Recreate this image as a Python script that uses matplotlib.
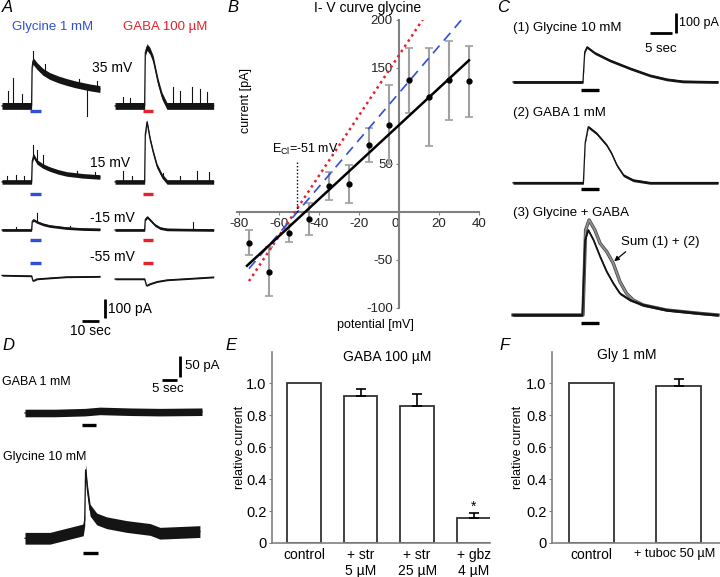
import numpy as np
import matplotlib
matplotlib.use('Agg')
import matplotlib.pyplot as plt
import matplotlib.patheffects as pe
import matplotlib.transforms as mtransforms

plt.rcParams['font.family'] = ['Liberation Sans', 'DejaVu Sans']
plt.rcParams['mathtext.fontset'] = 'custom'
plt.rcParams['mathtext.rm'] = 'Liberation Sans'
plt.rcParams['axes.unicode_minus'] = False

# ---------------- Panel A data (t in s from trace start, I in pA above baseline) ----
A_GLY35_T = [0, 17.4, 17.7, 18.2, 20.6, 24, 28, 33, 38, 43, 47.6, 52, 57.6]
A_GLY35_I = [0, 0, 200, 237, 210, 180, 158, 140, 126, 114, 105, 97, 89]
A_GLY35_SPK_T = [3.5, 6.7, 11.8, 18.0, 25.0, 32.0, 45.0, 50.2, 56.0]
A_GLY35_SPK_V = [79, 147, 63, 289, 221, 158, 142, -53, 132]

A_GABA35_T = [0, 17.4, 17.8, 18.8, 20.5, 22.4, 24, 25.3, 27.6, 30.5, 58]
A_GABA35_I = [0, 0, 280, 310, 290, 247, 180, 126, 53, 0, 0]
A_GABA35_SPK_T = [4.7, 9.0, 34, 38.2, 45, 50, 54]
A_GABA35_SPK_V = [47, 40, 100, 79, 100, 90, 74]

A_GLY15_T = [0, 17.4, 17.8, 18.6, 20.6, 24, 28, 33, 38, 47.6, 57.6]
A_GLY15_I = [0, 0, 110, 137, 105, 84, 68, 53, 42, 32, 26]
A_GLY15_SPK_T = [3, 8, 13, 18.3, 20.5, 24.0, 44, 55]
A_GLY15_SPK_V = [30, 35, 30, 195, 170, 140, 60, 50]

A_GABA15_T = [0, 17.4, 17.8, 18.8, 20.6, 22.4, 24.7, 27.6, 30.6, 58]
A_GABA15_I = [0, 0, 250, 316, 226, 158, 84, 32, 0, 0]
A_GABA15_SPK_T = [4.7, 10, 28, 38.2, 48.2, 55.3]
A_GABA15_SPK_V = [58, 30, 45, 32, 58, 53]

A_GLYm15_T = [0, 17.4, 17.8, 18.5, 20.6, 24, 28, 38, 47.6, 57.6]
A_GLYm15_I = [0, 0, 45, 53, 42, 30, 21, 10, 5, 3]
A_GLYm15_SPK_T = [8, 20.6, 40]
A_GLYm15_SPK_V = [15, 90, 20]

A_GABAm15_T = [0, 17.4, 17.8, 19, 20.6, 23.5, 26.5, 30.6, 58]
A_GABAm15_I = [0, 0, 55, 68, 53, 26, 10, 3, 0]
A_GABAm15_SPK_T = [46]
A_GABAm15_SPK_V = [40]

A_GLYm55_T = [0, 17.4, 18.2, 20.6, 28, 38, 48, 57.6]
A_GLYm55_I = [3, 0, -26, -16, -11, -5, -4, -3]

A_GABAm55_T = [0, 17.4, 18.5, 20.6, 24.7, 30.6, 40, 58]
A_GABAm55_I = [0, 0, -35, -26, -14, -5, 0, 10]

A_ROW_LABELS = ['35 mV', '15 mV', '-15 mV', '-55 mV']
A_STIM = (16.5, 22.7)

# ---------------- Panel B data ----------------
B_V = [-75, -65, -55, -45, -35, -25, -15, -5, 5, 15, 25, 35]
B_I = [-32, -62, -22, -7, 27, 29, 70, 91, 137, 120, 137, 136]
B_ERR = [13, 26, 9.5, 16.5, 15, 20, 18, 41, 34, 51, 41, 37]
B_FIT_BLACK_X = [-76, 35]
B_FIT_BLACK_Y = [-56, 158]
B_FIT_BLUE_X = [-75, 32]
B_FIT_BLUE_Y = [-59, 202]
B_FIT_RED_X = [-75, 12]
B_FIT_RED_Y = [-72, 201]
B_ECL = -51
B_XTICKS = [-80, -60, -40, -20, 0, 20, 40]
B_YTICKS = [-100, -50, 50, 150, 200]

# ---------------- Panel C data ----------------
C1_T = [0, 15.9, 16.3, 16.8, 18.6, 22.0, 26.6, 31.1, 35.0, 38.6, 46.6]
C1_I = [0, 0, 150, 175, 145, 108, 68, 33, 13, 3, 0]
C2_T = [0, 16.0, 16.4, 17.1, 19.0, 21.3, 22.4, 23.6, 25.1, 27.3, 31.1, 46.6]
C2_I = [0, 0, 200, 280, 247, 188, 147, 88, 38, 13, 0, 0]
C3_T = [0, 15.8, 16.4, 17.1, 18.3, 19.8, 21.3, 22.8, 24.3, 26.6, 29.6, 34.9, 42.5, 46.6]
C3_I = [0, 0, 375, 425, 375, 292, 217, 158, 108, 75, 50, 25, 8, 0]
C_SUM_T = [0, 15.9, 16.5, 17.3, 18.6, 19.8, 21.3, 22.8, 24.3, 25.8, 27.3, 29.6, 34.9, 42.5, 46.6]
C_SUM_I = [0, 0, 425, 475, 425, 358, 317, 258, 167, 108, 75, 50, 25, 8, 0]
C_STIM = (15.5, 19.5)

# ---------------- Panel D data ----------------
D_GABA_T = [0, 10, 20, 25, 35, 45, 59]
D_GABA_I = [0, 0, 2, 5, 3, 2, 3]
D_GLY_T = [0, 8.3, 17.2, 19.4, 19.9, 20.2, 20.8, 21.7, 23.9, 27.2, 33.9, 41.7, 45, 51.7, 58.3]
D_GLY_I = [-3, -3, 13, 17, 40, 160, 112, 64, 43, 34, 25, 18, 9, 11, 13]
D_STIM_GABA = (19.0, 23.7)
D_STIM_GLY = (19.3, 24.3)

# ---------------- Panel E / F data ----------------
E_LABELS = ['control', '+ str\n5 µM', '+ str\n25 µM', '+ gbz\n4 µM']
E_VALUES = [1.0, 0.92, 0.855, 0.155]
E_ERR = [0, 0.04, 0.075, 0.033]
F_LABELS = ['control', '+ tuboc 50 µM']
F_VALUES = [1.0, 0.98]
F_ERR = [0, 0.045]
REL_TICKS = [0, 0.2, 0.4, 0.6, 0.8, 1.0]
REL_TICKLABELS = ['0', '0.2', '0.4', '0.6', '0.8', '1.0']

# ---------------- helpers ----------------
W, H = 720, 577
fig = plt.figure(figsize=(W / 100, H / 100), dpi=100)
BLUE = '#2f4fd6'
RED = '#e3222b'
GAX = '#808080'
TRACE = '#141414'


def box(x0, y0, x1, y1):
    return [x0 / W, 1 - y1 / H, (x1 - x0) / W, (y1 - y0) / H]


def ftext(x, y, s, **kw):
    kw.setdefault('ha', 'center')
    kw.setdefault('va', 'center')
    fig.text(x / W, 1 - y / H, s, **kw)


def trace(ax, T, I, t0, y0, noise, spk_t=(), spk_v=(), color=TRACE, lw=0.9, z=3):
    t = np.asarray(T, float) + t0
    i = np.asarray(I, float) + y0
    ax.fill_between(t, i - noise, i + noise, color=color, lw=0, zorder=z)
    ax.plot(t, i, color=color, lw=lw, zorder=z)
    for st, sv in zip(spk_t, spk_v):
        b = np.interp(st + t0, t, i)
        ax.plot([st + t0] * 2, [b, sv + y0], color=color, lw=0.8, zorder=z)


def stim(ax, t_on, t_off, y, color='black'):
    ax.plot([t_on, t_off], [y, y], color=color, lw=2.4, solid_capstyle='butt')


def scalebar(ax, xv, y0v, y1v, xh0, xh1, yh):
    ax.plot([xv, xv], [y0v, y1v], color='black', lw=2, solid_capstyle='butt')
    ax.plot([xh0, xh1], [yh, yh], color='black', lw=2, solid_capstyle='butt')


# ---------------- Panel A ----------------
axA = fig.add_axes(box(0, 40, 215, 340))
axA.axis('off')
axA.set_xlim(-1.18, 125.3)
axA.set_ylim(0, 1579)
A_RIGHT_T0 = 66.5
A_BASE_LEFT = [1232, 832, 579, 337]
A_BASE_RIGHT = [1232, 832, 579, 321]
A_STIM_Y = [1205, 768, 526, 405]
A_NOISE = [18, 12, 7, 4]
left = [(A_GLY35_T, A_GLY35_I, A_GLY35_SPK_T, A_GLY35_SPK_V),
        (A_GLY15_T, A_GLY15_I, A_GLY15_SPK_T, A_GLY15_SPK_V),
        (A_GLYm15_T, A_GLYm15_I, A_GLYm15_SPK_T, A_GLYm15_SPK_V),
        (A_GLYm55_T, A_GLYm55_I, [], [])]
right = [(A_GABA35_T, A_GABA35_I, A_GABA35_SPK_T, A_GABA35_SPK_V),
         (A_GABA15_T, A_GABA15_I, A_GABA15_SPK_T, A_GABA15_SPK_V),
         (A_GABAm15_T, A_GABAm15_I, A_GABAm15_SPK_T, A_GABAm15_SPK_V),
         (A_GABAm55_T, A_GABAm55_I, [], [])]
for k in range(4):
    T, I, st, sv = left[k]
    trace(axA, T, I, 0, A_BASE_LEFT[k], A_NOISE[k], st, sv)
    T, I, st, sv = right[k]
    trace(axA, T, I, A_RIGHT_T0, A_BASE_RIGHT[k], A_NOISE[k], st, sv)
    stim(axA, A_STIM[0], A_STIM[1], A_STIM_Y[k], BLUE)
    stim(axA, A_RIGHT_T0 + A_STIM[0] - 0.2, A_RIGHT_T0 + A_STIM[1] - 0.5, A_STIM_Y[k], RED)
scalebar(axA, 60.6, 116, 216, 47.0, 57.0, 100)
for lab, (x, y) in zip(A_ROW_LABELS, [(112, 68), (110, 163), (112, 218), (112, 257)]):
    ftext(x, y, lab, fontsize=10)
ftext(53, 27, 'Glycine 1 mM', color=BLUE, fontsize=9.5)
ftext(165, 27, 'GABA 100 µM', color=RED, fontsize=9.5)
ftext(108, 309, '100 pA', ha='left', fontsize=10)
ftext(90, 331, '10 sec', fontsize=10)

# ---------------- Panel B ----------------
axB = fig.add_axes(box(237, 20, 479, 308))
axB.set_xlim(-81, 40)
axB.set_ylim(-100, 200)
axB.patch.set_visible(False)
for s in ['top', 'right']:
    axB.spines[s].set_visible(False)
axB.spines['left'].set_position(('data', 0))
axB.spines['bottom'].set_position(('data', 0))
for s in ['left', 'bottom']:
    axB.spines[s].set_color(GAX)
    axB.spines[s].set_linewidth(1.5)
axB.set_xticks(B_XTICKS, [str(v) for v in B_XTICKS])
axB.set_yticks(B_YTICKS, [str(v) for v in B_YTICKS])
axB.tick_params(length=2.5, color=GAX, labelsize=9.5, pad=2, labelcolor='#222222')
axB.get_xticklabels()[B_XTICKS.index(0)].set_ha('right')
axB.errorbar(B_V, B_I, yerr=B_ERR, fmt='none', ecolor='#a0a0a0', elinewidth=1.5,
             capsize=3, capthick=1.2, zorder=2)
axB.plot(B_FIT_RED_X, B_FIT_RED_Y, color=RED, lw=1.8, linestyle=(0, (1, 1.5)), zorder=3)
axB.plot(B_FIT_BLUE_X, B_FIT_BLUE_Y, color=BLUE, lw=1.2, linestyle=(0, (6, 4)), zorder=3)
axB.plot(B_FIT_BLACK_X, B_FIT_BLACK_Y, color='black', lw=1.8, zorder=4)
axB.plot(B_V, B_I, 'o', color='black', markersize=3.5, zorder=5)
axB.plot([B_ECL, B_ECL], [0, 54], color='black', lw=1, linestyle=(0, (1, 1.5)), zorder=3)
axB.text(-47, 65, r'E$_{\mathrm{Cl}}$=-51 mV', ha='center', va='center', fontsize=9)
axB.set_ylabel('current [pA]', fontsize=9)
axB.yaxis.set_label_coords(0.062, 0.722)
axB.set_xlabel('potential [mV]', fontsize=9)
axB.xaxis.set_label_coords(0.57, -0.038)
ftext(368, 8, 'I- V curve glycine', fontsize=10)

# ---------------- Panel C ----------------
axC = fig.add_axes(box(505, 0, 720, 335))
axC.axis('off')
axC.set_xlim(-1.82, 47.05)
axC.set_ylim(0, 1675)
trace(axC, C1_T, C1_I, 0, 1265, 7)
trace(axC, C2_T, C2_I, 0, 761, 7)
axC.plot(np.asarray(C_SUM_T), np.asarray(C_SUM_I) + 100, color='#909090', lw=1.3, zorder=2,
         path_effects=[pe.Stroke(linewidth=2.4, foreground='#444444'), pe.Normal()])
trace(axC, C3_T, C3_I, 0, 100, 6, lw=1.3)
for y in [1225, 730, 60]:
    stim(axC, C_STIM[0], C_STIM[1], y)
scalebar(axC, 37.05, 1510, 1610, 31.1, 36.1, 1510)
axC.text(24.5, 465, 'Sum (1) + (2)', ha='left', va='center', fontsize=9.5)
axC.annotate('', xy=(22.5, 360), xytext=(26.1, 425),
             arrowprops=dict(arrowstyle='-|>', lw=0.9, color='black', mutation_scale=7))
ftext(513, 28, '(1) Glycine 10 mM', ha='left', fontsize=9.5)
ftext(513, 113, '(2) GABA 1 mM', ha='left', fontsize=9.5)
ftext(513, 213, '(3) Glycine + GABA', ha='left', fontsize=9.5)
ftext(679, 23, '100 pA', ha='left', fontsize=9)
ftext(661, 49, '5 sec', fontsize=9.5)

# ---------------- Panel D ----------------
axD = fig.add_axes(box(0, 340, 230, 577))
axD.axis('off')
axD.set_xlim(-8.33, 68.33)
axD.set_ylim(0, 564.3)
trace(axD, D_GABA_T, D_GABA_I, 0, 390.5, 9)
trace(axD, D_GLY_T, D_GLY_I, 0, 95.2, 14)
stim(axD, D_STIM_GABA[0], D_STIM_GABA[1], 362)
stim(axD, D_STIM_GLY[0], D_STIM_GLY[1], 57)
scalebar(axD, 51.67, 476, 526, 45.67, 50.67, 469)
ftext(2, 382, 'GABA 1 mM', ha='left', fontsize=9)
ftext(3, 457, 'Glycine 10 mM', ha='left', fontsize=9)
ftext(185, 366, '50 pA', ha='left', fontsize=9.5)
ftext(168, 389, '5 sec', fontsize=9.5)


# ---------------- Panels E / F ----------------
def bar_panel(ax, labels, vals, errs, width, xlim, lab_x, xlabsize=10):
    x = np.arange(len(vals))
    ax.bar(x, vals, width, color='white', edgecolor='#333333', linewidth=1.3, zorder=2)
    xe = [xi for xi, e in zip(x, errs) if e > 0]
    ve = [v for v, e in zip(vals, errs) if e > 0]
    ee = [e for e in errs if e > 0]
    ax.errorbar(xe, ve, yerr=[np.zeros(len(ee)), ee], fmt='none', ecolor='black',
                elinewidth=1.2, capsize=3.5, capthick=1.2, zorder=3)
    ax.set_xlim(*xlim)
    ax.set_ylim(0, 1.194)
    for s in ['top', 'right']:
        ax.spines[s].set_visible(False)
    for s in ['left', 'bottom']:
        ax.spines[s].set_color(GAX)
        ax.spines[s].set_linewidth(1.2)
    ax.set_yticks(REL_TICKS, REL_TICKLABELS)
    ax.set_xticks(x, labels)
    ax.tick_params(axis='y', length=2.5, color=GAX, labelsize=10.5, pad=1.5)
    ax.tick_params(axis='x', length=0, labelsize=xlabsize, pad=3.5)
    ax.set_ylabel('relative current', fontsize=9)
    ax.yaxis.set_label_coords(lab_x, 0.5)


axE = fig.add_axes(box(272, 352, 490, 543))
bar_panel(axE, E_LABELS, E_VALUES, E_ERR, 0.6, (-0.566, 3.29), -0.119)
axE.text(3, 0.2, '*', ha='center', va='baseline', fontsize=10)
ftext(387, 357, 'GABA 100 µM', fontsize=10)

axF = fig.add_axes(box(552, 352, 720, 543))
bar_panel(axF, F_LABELS, F_VALUES, F_ERR, 0.514, (-0.451, 1.469), -0.167, xlabsize=9.2)
axF.get_xticklabels()[0].set_fontsize(10)
fl = axF.get_xticklabels()[1]
fl.set_transform(fl.get_transform() + mtransforms.ScaledTranslation(-3 / 72, 0, fig.dpi_scale_trans))
ftext(627, 355, 'Gly 1 mM', fontsize=10)

# ---------------- panel letters ----------------
for L, (x, y) in zip('ABCDEF', [(7.5, 8), (233, 8), (503, 8), (8, 345), (231, 345), (505, 345)]):
    ftext(x, y, L, fontsize=12, style='italic')

fig.savefig('out.png', dpi=100)
